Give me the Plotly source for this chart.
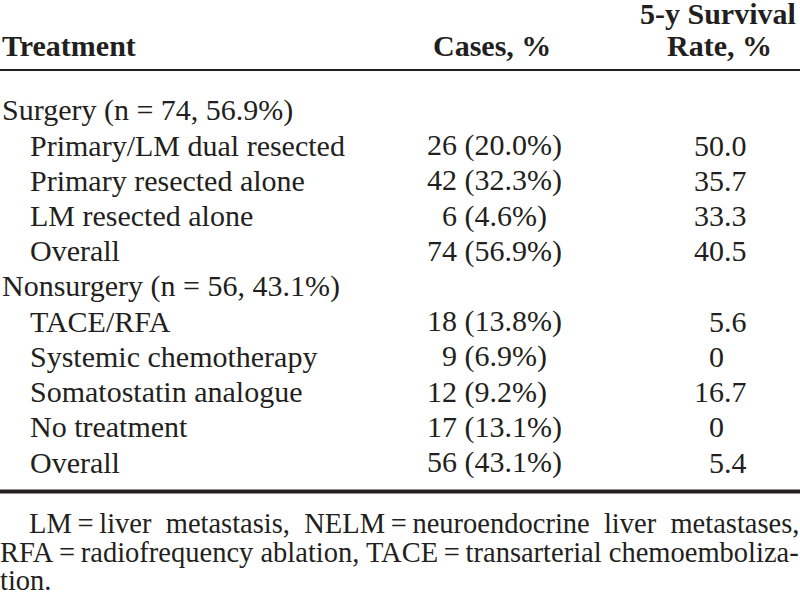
import plotly.graph_objects as go

# ---- data ----
header_treatment = "Treatment"
header_cases = "Cases, %"
header_surv = ["5-y Survival", "Rate, %"]

row_labels = [
    "Surgery (n = 74, 56.9%)",
    "Primary/LM dual resected",
    "Primary resected alone",
    "LM resected alone",
    "Overall",
    "Nonsurgery (n = 56, 43.1%)",
    "TACE/RFA",
    "Systemic chemotherapy",
    "Somatostatin analogue",
    "No treatment",
    "Overall",
]
row_is_group = [True, False, False, False, False, True, False, False, False, False, False]
case_counts = [None, 26, 42, 6, 74, None, 18, 9, 12, 17, 56]
case_pcts = [None, "20.0", "32.3", "4.6", "56.9", None, "13.8", "6.9", "9.2", "13.1", "43.1"]
survival = [None, "50.0", "35.7", "33.3", "40.5", None, "5.6", "0", "16.7", "0", "5.4"]

footnote_lines = [
    "LM\u2009=\u2009liver\u2002metastasis,\u2002NELM\u2009=\u2009neuroendocrine\u2002liver\u2002metastases,",
    "RFA\u2009=\u2009radiofrequency ablation, TACE\u2009=\u2009transarterial chemoemboliza-",
    "tion.",
]

# ---- layout ----
FONT = "Liberation Serif, Times New Roman, serif"
FS = 30
FS_NOTE = 28.5
W, H = 800, 595
FIG = "\u2007"

fig = go.Figure()
fig.add_trace(go.Scatter(x=[0, W], y=[0, H], mode="markers",
                         marker=dict(opacity=0), hoverinfo="skip", showlegend=False))

ann = []
def add(text, x, y, xanchor="left", bold=False, size=FS, xshift=0):
    if bold:
        text = "<b>" + text + "</b>"
    ann.append(dict(text=text, x=x, y=y, xref="x", yref="y", xanchor=xanchor,
                    yanchor="middle", showarrow=False, xshift=xshift,
                    font=dict(family=FONT, size=size, color="#231f20")))

hy = 45
add(header_treatment, 0, hy, bold=True)
add(header_cases, 492, hy, xanchor="center", bold=True)
add(header_surv[0], 718, 13, xanchor="center", bold=True)
add(header_surv[1], 719, hy, xanchor="center", bold=True)

y0, dy = 110, 35.2
for i, lab in enumerate(row_labels):
    y = y0 + dy * i
    add(lab, 0 if row_is_group[i] else 28, y)
    if case_counts[i] is not None:
        c = str(case_counts[i])
        if len(c) == 1:
            c = FIG + c
        add(f"{c} ({case_pcts[i]}%)", 425, y)
    if survival[i] is not None:
        s = survival[i]
        ip = s.split(".")[0]
        if len(ip) == 1:
            s = FIG + s
        add(s, 692, y)

fy = [523, 552, 580]
add(footnote_lines[0], 27, fy[0], size=FS_NOTE)
add(footnote_lines[1], 0, fy[1], size=FS_NOTE, xshift=-2)
add(footnote_lines[2], 0, fy[2], size=FS_NOTE, xshift=-2)

shapes = [
    dict(type="line", xref="x", yref="y", x0=0, x1=W, y0=70, y1=70,
         line=dict(color="#231f20", width=2)),
    dict(type="line", xref="x", yref="y", x0=0, x1=W, y0=491.5, y1=491.5,
         line=dict(color="#231f20", width=4)),
]

fig.update_layout(
    width=W, height=H, margin=dict(l=0, r=0, t=0, b=0),
    paper_bgcolor="white", plot_bgcolor="white",
    xaxis=dict(range=[0, W], visible=False, fixedrange=True),
    yaxis=dict(range=[H, 0], visible=False, fixedrange=True),
    annotations=ann, shapes=shapes, showlegend=False,
)
fig.write_html("out.html", config={"displayModeBar": False},
               post_script="document.body.style.margin='0px';")
